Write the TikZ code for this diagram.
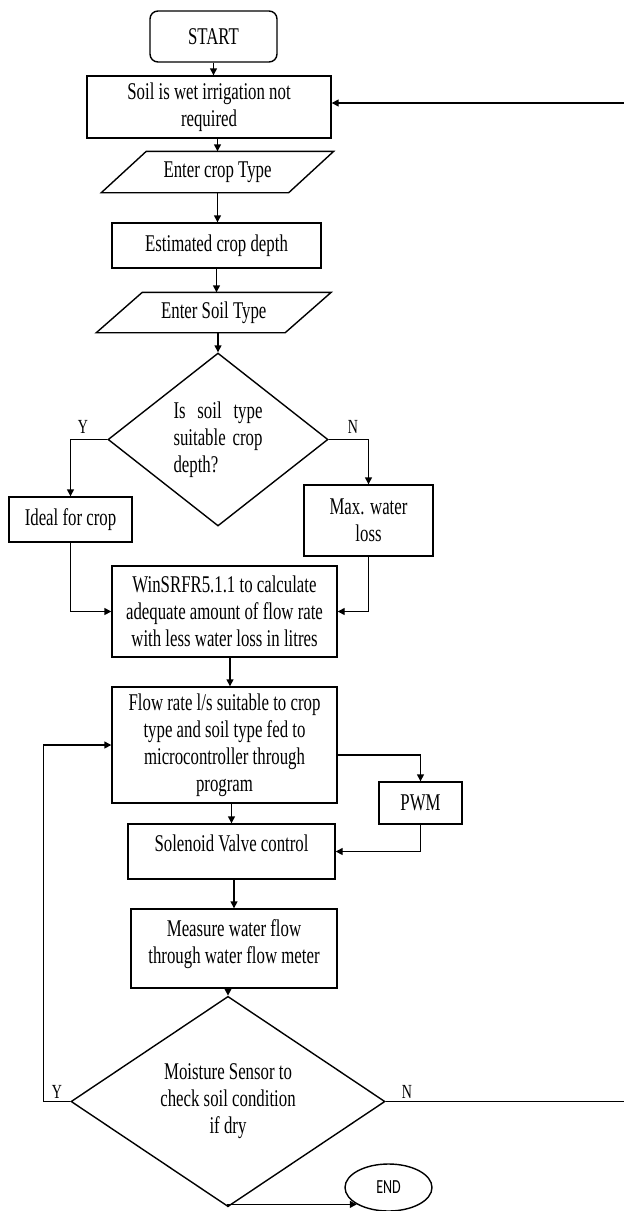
\documentclass[tikz,border=0pt]{standalone}
\usepackage{fontspec}
\setmainfont{Liberation Serif}[FakeStretch=0.7]
\newfontfamily\endfont{Carlito}[FakeStretch=0.7]
\usetikzlibrary{shapes.geometric,arrows.meta,calc}
\begin{document}
\begin{tikzpicture}[x=1pt,y=-1pt,line width=1.4pt,
  every node/.style={font=\fontsize{24}{27}\selectfont, inner sep=0pt},
  box/.style={draw, rectangle, align=center},
  io/.style={rectangle, align=center},
  dec/.style={draw, diamond},
  yn/.style={font=\fontsize{20}{22}\selectfont},
  arr/.style={-{Triangle[length=7pt,width=7pt]}}
]
\useasboundingbox (0,0) rectangle (624,1211);

\node[box, rounded corners=8pt, minimum width=127pt, minimum height=51pt] (start) at (213.5,36.5) {START};
\node[box, minimum width=244pt, minimum height=62pt] (soil) at (209,107) {Soil is wet irrigation not\\required};

\node[io, minimum width=186pt, minimum height=40pt] (crop) at (217.5,172) {Enter crop Type};
\draw ([xshift=22.5pt]crop.north west) -- ([xshift=22.5pt]crop.north east) -- ([xshift=-22.5pt]crop.south east) -- ([xshift=-22.5pt]crop.south west) -- cycle;

\node[box, minimum width=209pt, minimum height=45pt] (est) at (216.5,245.5) {Estimated crop depth};

\node[io, minimum width=187.5pt, minimum height=39pt] (soiltype) at (213.75,312.5) {Enter Soil Type};
\draw ([xshift=23pt]soiltype.north west) -- ([xshift=23pt]soiltype.north east) -- ([xshift=-23pt]soiltype.south east) -- ([xshift=-23pt]soiltype.south west) -- cycle;

\node[dec, minimum width=220pt, minimum height=173pt, align=left] (d1) at (218,439.5)
  {\makebox[89pt][s]{Is soil type}\\\makebox[89pt][s]{suitable crop}\\depth?};

\node[box, minimum width=123pt, minimum height=45pt] (ideal) at (70.5,519.5) {Ideal for crop};
\node[box, minimum width=129pt, minimum height=71pt] (max) at (368.5,520.5) {Max. water\\loss};

\node[box, minimum width=225pt, minimum height=91pt] (win) at (224.5,611.5) {WinSRFR5.1.1 to calculate\\adequate amount of flow rate\\with less water loss in litres};

\node[box, minimum width=225pt, minimum height=116pt] (flow) at (224.5,745) {Flow rate l/s suitable to crop\\type and soil type fed to\\microcontroller through\\program};

\node[box, minimum width=83pt, minimum height=42pt] (pwm) at (420.5,803) {PWM};

\node[box, minimum width=207pt, minimum height=55pt] (sol) at (231.5,851.5) {Solenoid Valve control\\[-10pt]\mbox{}};

\node[box, minimum width=206pt, minimum height=79pt] (meas) at (234,948.5) {Measure water flow\\through water flow meter\\[-13pt]\mbox{}};

\node[dec, minimum width=314pt, minimum height=191pt, align=center] (d2) at (228,1101.5) {Moisture Sensor to\\check soil condition\\if dry};

\node[draw, ellipse, minimum width=87pt, minimum height=47pt, font=\endfont\fontsize{20}{22}\selectfont] (endn) at (388.5,1187.5) {END};

\node[yn] (y1) at (83,427) {Y};
\node[yn] (n1) at (353,427) {N};
\node[yn] (y2) at (57,1092) {Y};
\node[yn] (n2) at (407,1092) {N};

\coordinate (rt) at (632,0);

\draw[arr] (start.south) -- (start.south |- soil.north);
\draw[arr] (crop.north |- soil.south) -- (crop.north);
\draw[arr] (crop.south) -- (crop.south |- est.north);
\draw[arr] (est.south) -- (est.south |- soiltype.north);
\draw[arr] (d1.north |- soiltype.south) -- (d1.north);
\draw[arr] (d1.west) -| (ideal.north);
\draw[arr] (d1.east) -| (max.north);
\draw[arr] (ideal.south) |- (win.west);
\draw[arr] (max.south) |- (win.east);
\draw[arr] ([xshift=5.5pt]win.south) -- ([xshift=5.5pt]flow.north);
\draw[arr] ([yshift=-10pt]flow.east) -| (pwm.north);
\draw[arr] (pwm.south) |- (sol.east);
\draw[arr] (sol.north |- flow.south) -- (sol.north);
\draw[arr] (meas.north |- sol.south) -- (meas.north);
\draw[arr] (d2.north |- meas.south) -- (d2.north);
\draw[arr] (d2.west) -- ++(-27,0) |- (flow.west);
\draw[arr] (d2.east) -- (d2.east -| rt) |- ([yshift=4pt]soil.east);
\draw[arr] (d2.south) |- (endn.208);
\end{tikzpicture}
\end{document}
